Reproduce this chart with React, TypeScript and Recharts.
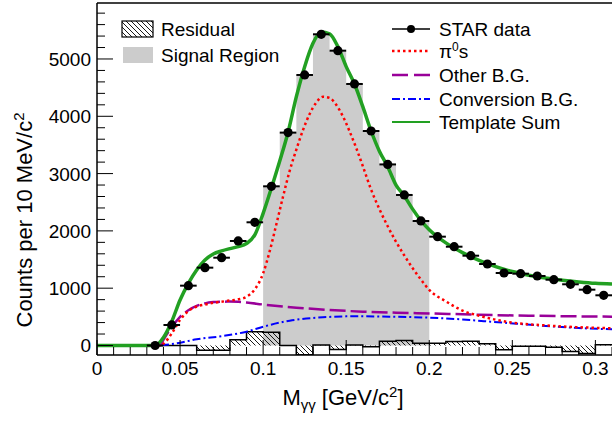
import React from 'react';
import { ComposedChart, XAxis, YAxis, Line, Area, Scatter, ErrorBar, ReferenceLine } from 'recharts';

const FONT = '"Liberation Sans", Arial, Helvetica, sans-serif';
const BIN = 0.01;
const X_MIN = 0;
const X_MAX = 0.31;
const Y_MIN = -166;
const Y_MAX = 5977;
const SIGNAL_LO = 0.1;
const SIGNAL_HI = 0.2;

// STAR data, bin centres [GeV/c2] and counts
const DATA_X = [0.035, 0.045, 0.055, 0.065, 0.075, 0.085, 0.095, 0.105, 0.115, 0.125, 0.135, 0.145, 0.155, 0.165,
  0.175, 0.185, 0.195, 0.205, 0.215, 0.225, 0.235, 0.245, 0.255, 0.265, 0.275, 0.285, 0.295, 0.305];
const DATA_Y = [0, 358, 1044, 1358, 1532, 1824, 2150, 2778, 3715, 4721, 5431, 5145, 4564, 3743,
  3160, 2627, 2173, 1899, 1724, 1567, 1422, 1265, 1253, 1213, 1148, 1068, 974, 876];

// residual, one value per 10 MeV bin starting at 0
const RESIDUAL = [0, 0, 0, 0, 0, 0, -85, -85, 100, 240, 233, 0, -160, 10, -70, 10, -20, 76, 87, 41,
  41, 70, 76, 29, -76, -12, -12, -29, -105, -140, 12];

const SUM_X = [0, 0.035, 0.04, 0.045, 0.05, 0.055, 0.06, 0.065, 0.07, 0.075, 0.08, 0.085, 0.09, 0.095, 0.1, 0.105,
  0.11, 0.115, 0.12, 0.125, 0.13, 0.135, 0.14, 0.145, 0.15, 0.155, 0.16, 0.165, 0.17, 0.175, 0.18, 0.185, 0.19,
  0.195, 0.2, 0.21, 0.22, 0.23, 0.24, 0.25, 0.26, 0.27, 0.28, 0.29, 0.3, 0.31];
const SUM_Y = [0, 0, 140, 420, 794, 1085, 1318, 1492, 1597, 1650, 1690, 1725, 1780, 1930, 2307, 2750,
  3220, 3721, 4342, 4866, 5274, 5470, 5440, 5215, 4866, 4564, 4168, 3743, 3390, 3120, 2800, 2610, 2380,
  2180, 2020, 1790, 1620, 1485, 1375, 1290, 1227, 1178, 1140, 1110, 1086, 1073];

const PI0_X = [0, 0.038, 0.04, 0.045, 0.05, 0.055, 0.06, 0.065, 0.07, 0.075, 0.08, 0.085, 0.09, 0.095, 0.1, 0.104,
  0.108, 0.112, 0.116, 0.12, 0.124, 0.128, 0.132, 0.136, 0.14, 0.144, 0.148, 0.152, 0.156, 0.16, 0.165, 0.17,
  0.175, 0.18, 0.185, 0.19, 0.195, 0.2, 0.21, 0.22, 0.23, 0.24, 0.25, 0.26, 0.27, 0.28, 0.29, 0.3, 0.31];
const PI0_Y = [0, 0, 30, 210, 445, 600, 680, 715, 745, 764, 785, 806, 850, 980, 1260, 1650,
  2120, 2600, 3050, 3420, 3760, 4040, 4240, 4340, 4320, 4200, 4000, 3740, 3450, 3130, 2720, 2380,
  2080, 1810, 1570, 1350, 1150, 969, 770, 610, 520, 450, 398, 370, 350, 332, 318, 308, 300];

const OTHER_X = [0, 0.038, 0.04, 0.045, 0.05, 0.055, 0.06, 0.065, 0.07, 0.075, 0.08, 0.085, 0.09, 0.1, 0.12, 0.14,
  0.16, 0.18, 0.2, 0.22, 0.24, 0.26, 0.28, 0.3, 0.31];
const OTHER_Y = [0, 0, 100, 320, 500, 615, 690, 735, 757, 764, 766, 762, 750, 715, 660, 620,
  590, 572, 560, 545, 530, 520, 512, 505, 503];

const CONV_X = [0, 0.035, 0.04, 0.048, 0.06, 0.076, 0.09, 0.1, 0.116, 0.136, 0.156, 0.176, 0.2, 0.22, 0.233,
  0.253, 0.273, 0.29, 0.31];
const CONV_Y = [0, 0, 8, 38, 108, 166, 241, 328, 433, 492, 510, 503, 486, 455, 425,
  380, 335, 305, 283];

const X_TICKS = Array.from({ length: 32 }, (_, i) => i / 100);
const X_LABELS = ['0', '0.05', '0.1', '0.15', '0.2', '0.25', '0.3'];
const Y_TICKS = Array.from({ length: 30 }, (_, i) => i * 200);
const Y_LABELS = ['0', '1000', '2000', '3000', '4000', '5000'];

const toPts = (xs: number[], ys: number[]) => xs.map((x, i) => ({ x, y: ys[i] }));

const dataPts = DATA_X.map((x, i) => ({ x, y: DATA_Y[i], ex: BIN / 2 }));

const signalBins = DATA_X.map((x, i) => ({ x: x - BIN / 2, y: DATA_Y[i] }))
  .filter((p) => p.x > SIGNAL_LO - 1e-6 && p.x < SIGNAL_HI - 1e-6);
const signalPts = [...signalBins, { x: SIGNAL_HI, y: signalBins[signalBins.length - 1].y }];

const residualPts = [
  ...RESIDUAL.map((v, i) => ({ x: i * BIN, y: v })),
  { x: RESIDUAL.length * BIN, y: RESIDUAL[RESIDUAL.length - 1] },
];

const XTick = (props: any) => {
  const { x, y, payload } = props;
  const n = Math.round(payload.value * 100);
  const major = n % 5 === 0;
  return (
    <g>
      <line x1={x} y1={y} x2={x} y2={y - (major ? 15 : 8)} stroke="#000" strokeWidth={1} />
      {major && (
        <text x={x} y={y + 20} textAnchor="middle" fontSize={19} fontFamily={FONT} fill="#000">
          {X_LABELS[n / 5]}
        </text>
      )}
    </g>
  );
};

const YTick = (props: any) => {
  const { x, y, payload } = props;
  const v = payload.value;
  const major = v % 1000 === 0;
  return (
    <g>
      <line x1={x} y1={y} x2={x + (major ? 16 : 8)} y2={y} stroke="#000" strokeWidth={1} />
      {major && (
        <text x={x - 6} y={y + 7} textAnchor="end" fontSize={19} fontFamily={FONT} fill="#000">
          {Y_LABELS[v / 1000]}
        </text>
      )}
    </g>
  );
};

export default function App() {
  return (
    <div style={{ position: 'absolute', left: 0, top: 0, width: 612, height: 424, background: '#fff' }}>
      <ComposedChart width={612} height={424} margin={{ top: 3, right: 0, bottom: 0, left: 0 }}>
        <XAxis
          dataKey="x"
          type="number"
          domain={[X_MIN, X_MAX]}
          allowDataOverflow
          ticks={X_TICKS}
          interval={0}
          tickSize={0}
          tickMargin={0}
          tickLine={false}
          tick={<XTick />}
          height={69}
          axisLine={{ stroke: '#000', strokeWidth: 1.5 }}
        />
        <YAxis
          dataKey="y"
          type="number"
          domain={[Y_MIN, Y_MAX]}
          allowDataOverflow
          ticks={Y_TICKS}
          interval={0}
          tickSize={0}
          tickMargin={0}
          tickLine={false}
          tick={<YTick />}
          width={97}
          axisLine={{ stroke: '#000', strokeWidth: 1.5 }}
        />
        <ReferenceLine y={Y_MAX} stroke="#000" strokeWidth={1.5} />
        <Area
          data={signalPts}
          dataKey="y"
          type="stepAfter"
          baseValue={0}
          fill="#cccccc"
          fillOpacity={1}
          stroke="none"
          isAnimationActive={false}
        />
        <Area
          data={residualPts}
          dataKey="y"
          type="stepAfter"
          baseValue={0}
          fill="url(#hatch)"
          fillOpacity={1}
          stroke="#000"
          strokeWidth={1.5}
          isAnimationActive={false}
        />
        <Line data={toPts(CONV_X, CONV_Y)} dataKey="y" type="monotone" stroke="#0000ff" strokeWidth={2}
          strokeDasharray="8 3 2 3" dot={false} isAnimationActive={false} />
        <Line data={toPts(OTHER_X, OTHER_Y)} dataKey="y" type="monotone" stroke="#990099" strokeWidth={2.5}
          strokeDasharray="16 5" dot={false} isAnimationActive={false} />
        <Line data={toPts(PI0_X, PI0_Y)} dataKey="y" type="monotone" stroke="#ff0000" strokeWidth={2.5}
          strokeDasharray="2.5 3" dot={false} isAnimationActive={false} />
        <Line data={toPts(SUM_X, SUM_Y)} dataKey="y" type="monotone" stroke="#22a022" strokeWidth={3.5}
          dot={false} isAnimationActive={false} />
        <Scatter
          data={dataPts}
          dataKey="y"
          fill="#000"
          isAnimationActive={false}
          shape={(p: any) => <circle cx={p.cx} cy={p.cy} r={4.6} fill="#000" />}
        >
          <ErrorBar dataKey="ex" direction="x" width={0} stroke="#000" strokeWidth={2} />
        </Scatter>
      </ComposedChart>
      <svg
        width={612}
        height={424}
        style={{ position: 'absolute', left: 0, top: 0, pointerEvents: 'none' }}
        fontFamily={FONT}
      >
        <defs>
          <pattern id="hatch" patternUnits="userSpaceOnUse" width={5} height={5}>
            <path d="M-1,-1 L6,6 M-1,4 L1,6 M4,-1 L6,1" stroke="#000" strokeWidth={0.9} />
          </pattern>
        </defs>
        <rect x={122} y={21} width={31} height={16} fill="url(#hatch)" stroke="#000" strokeWidth={1.2} />
        <text x={161} y={36} fontSize={19}>Residual</text>
        <rect x={123} y={47} width={30} height={16} fill="#cccccc" />
        <text x={161} y={62} fontSize={19}>Signal Region</text>

        <line x1={392} y1={29} x2={430} y2={29} stroke="#000" strokeWidth={1.5} />
        <circle cx={411} cy={29} r={4} fill="#000" />
        <text x={439} y={36} fontSize={19}>STAR data</text>
        <line x1={392} y1={51} x2={430} y2={51} stroke="#ff0000" strokeWidth={2.5} strokeDasharray="2.5 3" />
        <text x={439} y={58} fontSize={19}>
          π<tspan dy={-7} fontSize={12}>0</tspan><tspan dy={7}>s</tspan>
        </text>
        <line x1={392} y1={75} x2={430} y2={75} stroke="#990099" strokeWidth={2.5} strokeDasharray="16 6" />
        <text x={439} y={82} fontSize={19}>Other B.G.</text>
        <line x1={392} y1={99} x2={430} y2={99} stroke="#0000ff" strokeWidth={2} strokeDasharray="8 3 2 3" />
        <text x={439} y={106} fontSize={19}>Conversion B.G.</text>
        <line x1={392} y1={122} x2={430} y2={122} stroke="#22a022" strokeWidth={2} />
        <text x={439} y={129} fontSize={19}>Template Sum</text>

        <text x={32} y={220} transform="rotate(-90 32 220)" textAnchor="middle" fontSize={22}>
          Counts per 10 MeV/c<tspan dy={-8} fontSize={15}>2</tspan>
        </text>
        <text x={343} y={405} textAnchor="middle" fontSize={22}>
          M<tspan dy={5} fontSize={15}>γγ</tspan>
          <tspan dy={-5}> [GeV/c</tspan>
          <tspan dy={-8} fontSize={15}>2</tspan>
          <tspan dy={8}>]</tspan>
        </text>
      </svg>
    </div>
  );
}
